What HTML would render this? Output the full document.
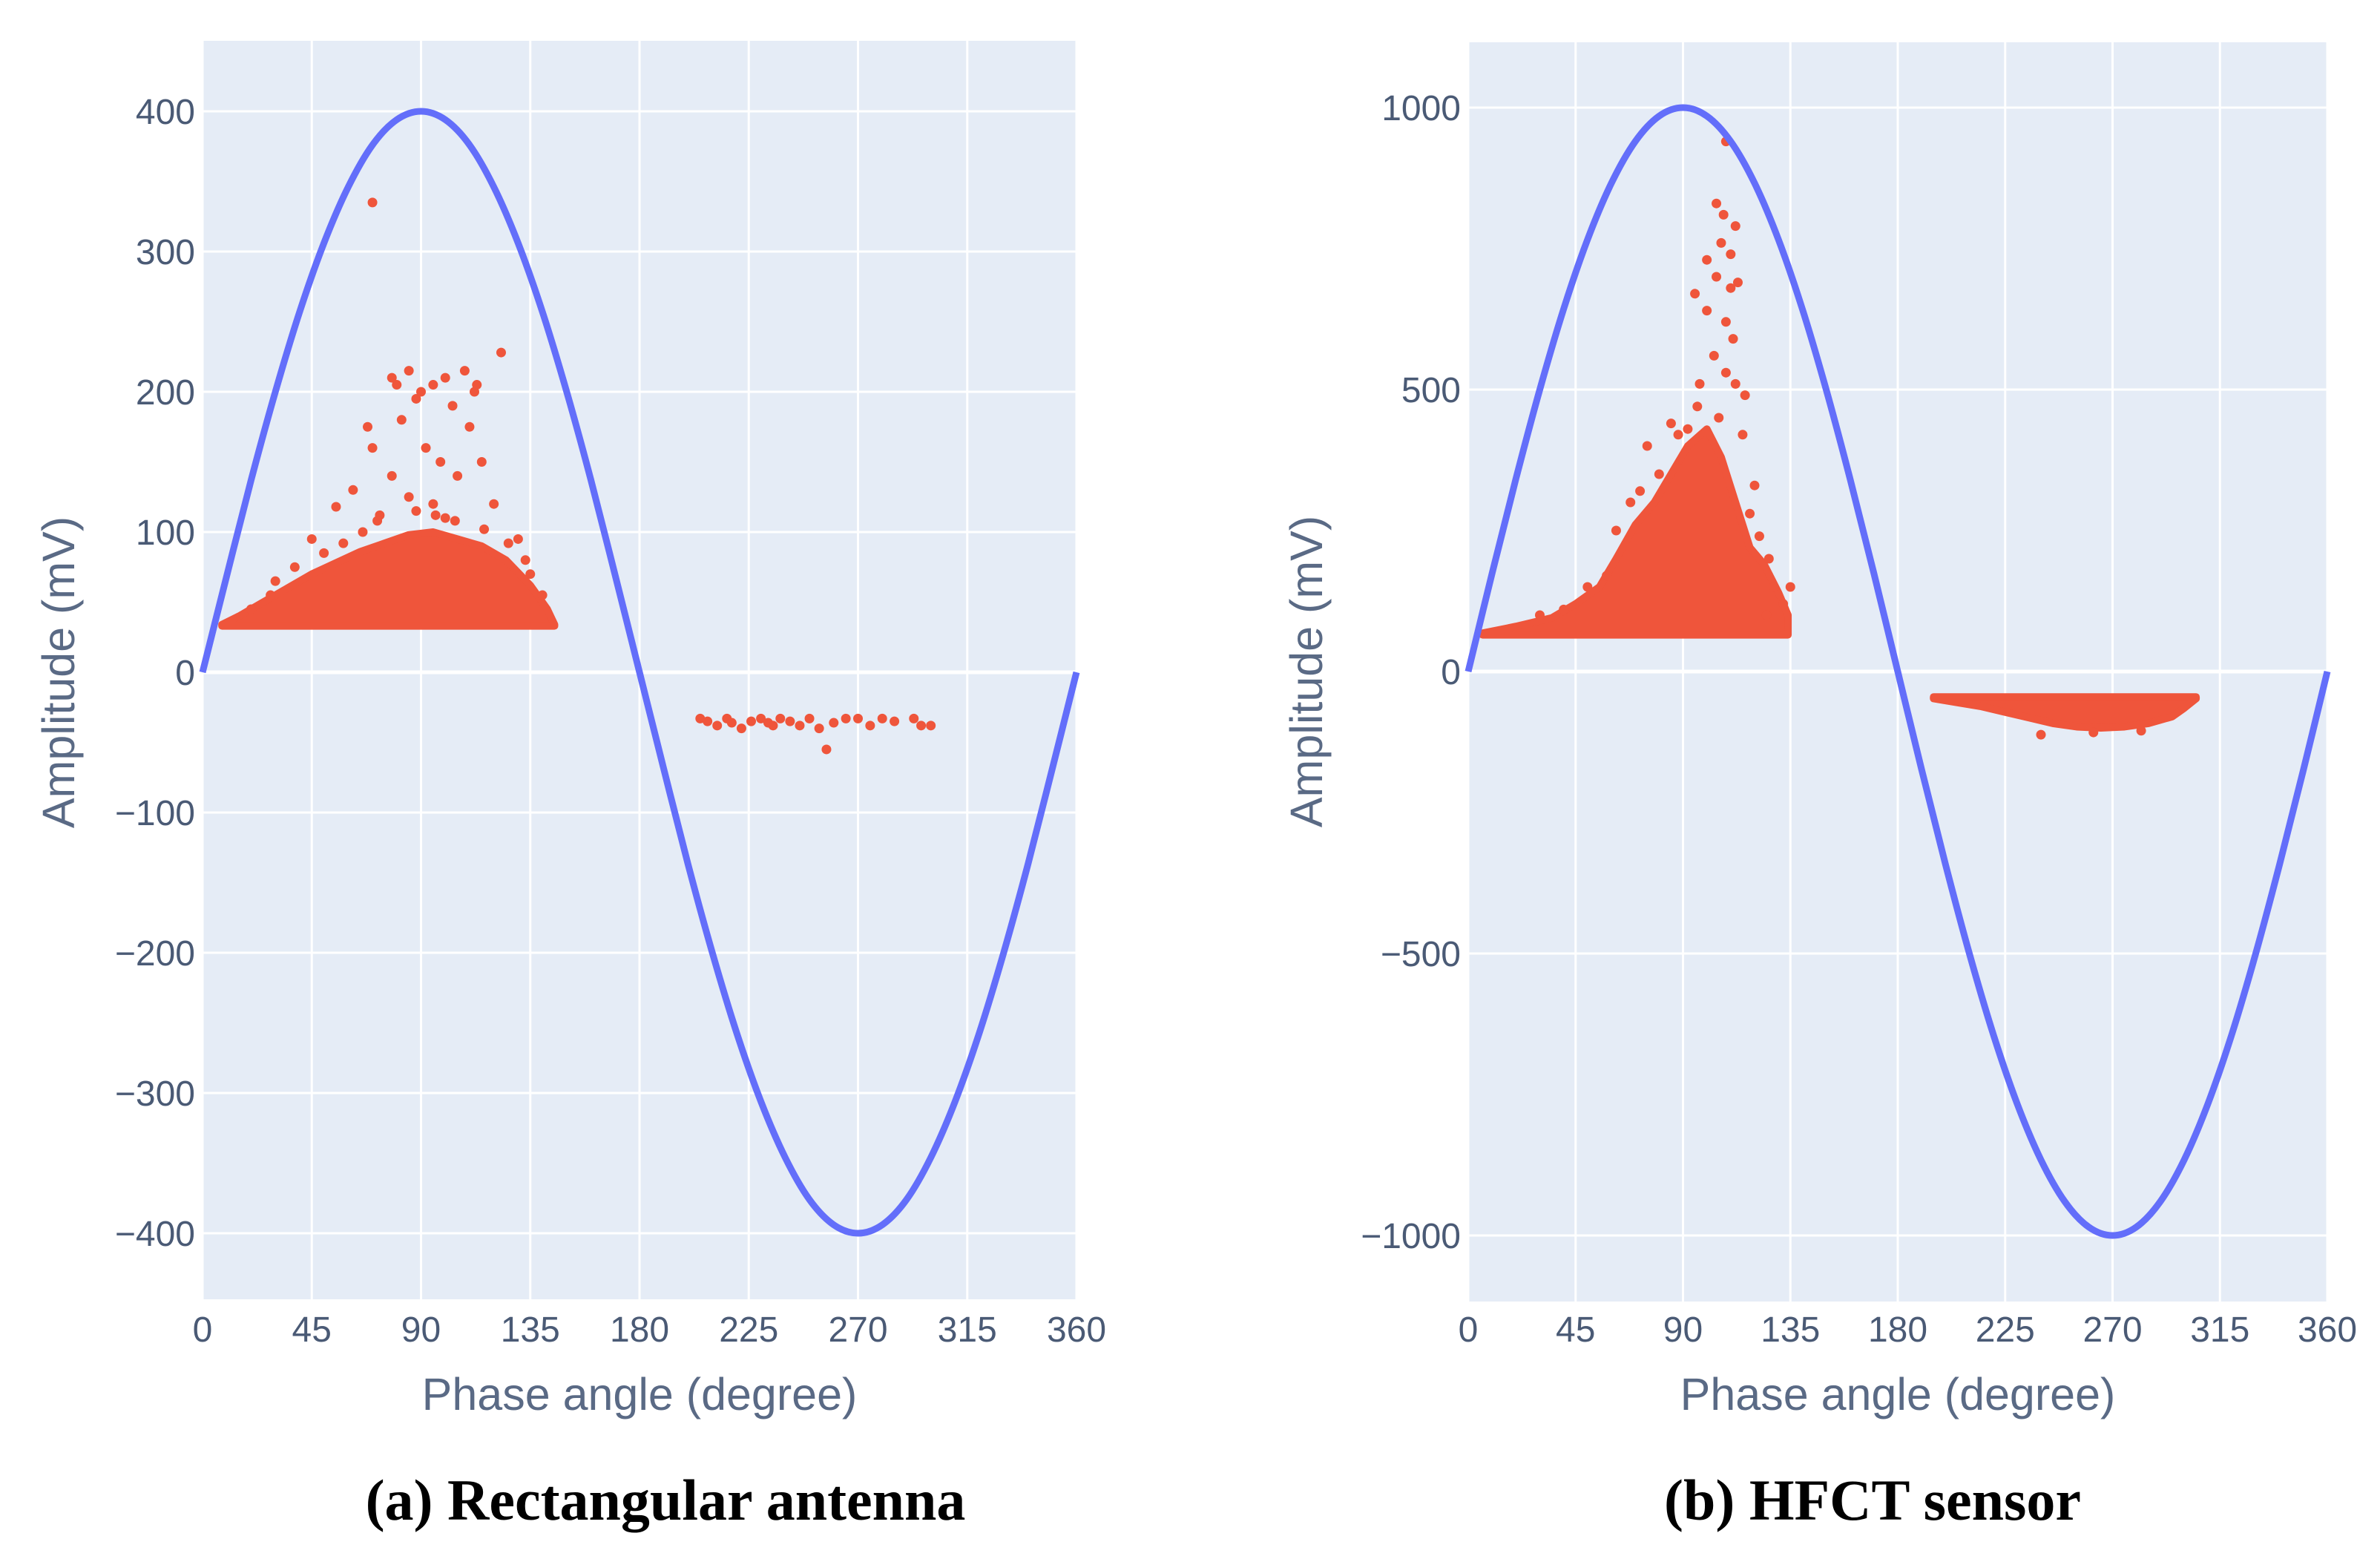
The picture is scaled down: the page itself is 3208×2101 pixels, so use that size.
<!DOCTYPE html>
<html><head><meta charset="utf-8">
<style>
html,body{margin:0;padding:0;background:#fff;}
svg{display:block;}
</style></head>
<body>
<svg id="fig" xmlns="http://www.w3.org/2000/svg" width="3208" height="2101" viewBox="0 0 3208 2101" font-family="'Liberation Sans', sans-serif"></svg>
<script>
// ===== Shared data =====
const xTicks = [0,45,90,135,180,225,270,315,360];
const sinePhases = [0,10,20,30,40,50,60,70,80,90,100,110,120,130,140,150,160,170,180,190,200,210,220,230,240,250,260,270,280,290,300,310,320,330,340,350,360];

// ===== Chart A data (Rectangular antenna) =====
const aYTicks = [400,300,200,100,0,-100,-200,-300,-400];
const aYTickLabels = ['400','300','200','100','0','\u2212100','\u2212200','\u2212300','\u2212400'];
const aSine = [0,69,137,200,257,306,346,376,394,400,394,376,346,306,257,200,137,69,0,-69,-137,-200,-257,-306,-346,-376,-394,-400,-394,-376,-346,-306,-257,-200,-137,-69,0];
const aDensePhase = [8,15,25,35,45,55,65,75,85,95,105,115,125,135,142,145];
const aDenseUpper = [34,40,50,60,70,78,86,92,98,100,95,90,80,62,45,34];
const aDenseBase = 33;
const aOutPhase = [70,123,85,78,100,108,95,112,88,103,68,82,110,92,98,70,115,78,105,62,85,120,95,55,100,73,45,130,135,30,113,90,80,38,50,58,66,72,88,96,104,116,126,133,140,20,28];
const aOutAmp = [335,228,215,210,210,215,205,200,195,190,175,180,175,160,150,160,150,140,140,130,125,120,120,118,110,112,95,95,70,65,205,200,205,75,85,92,100,108,115,112,108,102,92,80,55,45,55];
const aNegPhase = [205,208,212,216,218,222,226,230,233,235,238,242,246,250,254,257,260,265,270,275,280,285,293,296,300];
const aNegAmp = [-33,-35,-38,-33,-36,-40,-35,-33,-36,-38,-33,-35,-38,-33,-40,-55,-36,-33,-33,-38,-33,-35,-33,-38,-38];

// ===== Chart B data (HFCT sensor) =====
const bYTicks = [1000,500,0,-500,-1000];
const bYTickLabels = ['1000','500','0','\u2212500','\u22121000'];
const bSine = [0,174,342,500,643,766,866,940,985,1000,985,940,866,766,643,500,342,174,0,-174,-342,-500,-643,-766,-866,-940,-985,-1000,-985,-940,-866,-766,-643,-500,-342,-174,0];
const bDensePhase = [6,20,35,45,55,62,70,78,85,92,100,106,112,118,124,130,134];
const bDenseUpper = [68,80,95,120,150,200,260,300,350,400,430,380,300,220,190,140,100];
const bDenseBase = 65;
const bOutPhase = [108,104,107,112,106,110,100,104,110,113,95,100,108,111,103,108,112,97,116,92,75,68,120,122,128,135,125,58,40,30,105,115,85,80,72,62,88,96,118,126,132,50];
const bOutAmp = [940,830,810,790,760,740,730,700,680,690,670,640,620,590,560,530,510,510,490,430,400,300,330,240,150,150,100,170,110,100,450,420,440,350,320,250,420,470,280,200,120,150];
const bNegPhase = [195,205,215,225,235,245,255,265,275,285,295,300,305];
const bNegLower = [-48,-55,-62,-72,-82,-92,-98,-100,-98,-92,-80,-65,-48];
const bNegBase = -45;
const bNegOutPhase = [240,262,282];
const bNegOutAmp = [-112,-108,-105];

const svg = document.getElementById('fig');
const NS = 'http://www.w3.org/2000/svg';
function mk(tag, attrs, parent){ const e=document.createElementNS(NS,tag); for(const k in attrs) e.setAttribute(k,attrs[k]); (parent||svg).appendChild(e); return e; }

function smoothPath(pts){
  let d='M'+pts[0][0]+','+pts[0][1];
  for(let i=0;i<pts.length-1;i++){
    const p0=pts[Math.max(0,i-1)],p1=pts[i],p2=pts[i+1],p3=pts[Math.min(pts.length-1,i+2)];
    const c1x=p1[0]+(p2[0]-p0[0])/6,c1y=p1[1]+(p2[1]-p0[1])/6;
    const c2x=p2[0]-(p3[0]-p1[0])/6,c2y=p2[1]-(p3[1]-p1[1])/6;
    d+=' C'+c1x+','+c1y+' '+c2x+','+c2y+' '+p2[0]+','+p2[1];
  }
  return d;
}

function chart(cfg){
  const g = mk('g',{});
  
  
  const X = v => cfg.x0 + (v/360)*(cfg.x1-cfg.x0);
  const Y = v => cfg.yZero - v*cfg.yScale;
  const bg = mk('rect',{x:cfg.x0,y:cfg.top,width:cfg.x1-cfg.x0,height:cfg.bottom-cfg.top,fill:'#e5ecf6'},g);
  
  
  xTicks.forEach(t=>{
    const l=mk('line',{x1:X(t),x2:X(t),y1:cfg.top,y2:cfg.bottom,stroke:'#ffffff','stroke-width':3},g);
    
    
    const tx=mk('text',{x:X(t),y:1808,'font-size':48,fill:'#4a5a75','text-anchor':'middle'},g);
    tx.textContent=t;
    
    
  });
  cfg.yTicks.forEach((t,i)=>{
    const l=mk('line',{x1:cfg.x0,x2:cfg.x1,y1:Y(t),y2:Y(t),stroke:'#ffffff','stroke-width':t===0?5:3},g);
    
    
    const tx=mk('text',{x:cfg.x0-10,y:Y(t)+17,'font-size':48,fill:'#4a5a75','text-anchor':'end'},g);
    tx.textContent=cfg.yTickLabels[i];
    
    
  });
  const xt=mk('text',{x:(cfg.x0+cfg.x1)/2,y:1900,'font-size':61,fill:'#5a6a85','text-anchor':'middle'},g);
  xt.textContent='Phase angle (degree)';
  
  
  const yt=mk('text',{x:0,y:0,'font-size':61,fill:'#5a6a85','text-anchor':'middle',transform:'translate('+(cfg.yTitleX)+','+cfg.yZero+') rotate(-90)'},g);
  yt.textContent='Amplitude (mV)';
  
  
  const red='#ef553b';
  function area(ph, edge, base, nm){
    const pts=ph.map((p,i)=>X(p)+','+Y(edge[i]));
    const rev=ph.slice().reverse().map(p=>X(p)+','+Y(base));
    const a=mk('polygon',{points:pts.concat(rev).join(' '),fill:red,stroke:red,'stroke-width':10,'stroke-linejoin':'round'},g);
    
    
  }
  area(cfg.densePhase,cfg.denseUpper,cfg.denseBase,'positive-pd-cluster');
  if(cfg.negPhase2) area(cfg.negPhase2,cfg.negLower,cfg.negBase,'negative-pd-cluster');
  function pts(ph,amp,nm){
    ph.forEach((p,i)=>{
      const c=mk('circle',{cx:X(p),cy:Y(amp[i]),r:6.5,fill:red},g);
      
      
    });
  }
  pts(cfg.outPhase,cfg.outAmp,'pd-point');
  if(cfg.negPhase) pts(cfg.negPhase,cfg.negAmp,'negative-pd-point');
  const sp=sinePhases.map((p,i)=>[X(p),Y(cfg.sine[i])]);
  const s=mk('path',{d:smoothPath(sp),fill:'none',stroke:'#636efa','stroke-width':9},g);
  
  
  const cap=mk('text',{x:cfg.capX,y:2048,'font-size':78,'font-weight':'bold','font-family':"'Liberation Serif', serif",fill:'#000','text-anchor':'middle'},svg);
  cap.textContent=cfg.caption;
  
  
}

chart({name:'chart-rectangular-antenna',x0:273,x1:1451,top:55,bottom:1751,yZero:906,yScale:1.89,yTitleX:100,
  yTicks:aYTicks,yTickLabels:aYTickLabels,sine:aSine,densePhase:aDensePhase,denseUpper:aDenseUpper,denseBase:aDenseBase,
  outPhase:aOutPhase,outAmp:aOutAmp,negPhase:aNegPhase,negAmp:aNegAmp,capX:897,caption:'(a) Rectangular antenna'});
chart({name:'chart-hfct-sensor',x0:1979,x1:3137,top:57,bottom:1754,yZero:905,yScale:0.76,yTitleX:1782,
  yTicks:bYTicks,yTickLabels:bYTickLabels,sine:bSine,densePhase:bDensePhase,denseUpper:bDenseUpper,denseBase:bDenseBase,
  outPhase:bOutPhase,outAmp:bOutAmp,negPhase:bNegOutPhase,negAmp:bNegOutAmp,negPhase2:bNegPhase,negLower:bNegLower,negBase:bNegBase,
  capX:2524,caption:'(b) HFCT sensor'});
</script>
</body></html>
